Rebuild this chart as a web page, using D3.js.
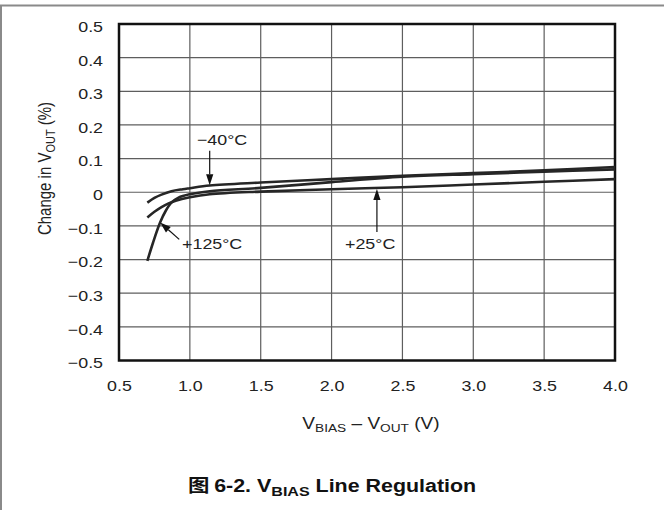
<!DOCTYPE html>
<html><head><meta charset="utf-8">
<script src="https://cdn.jsdelivr.net/npm/d3@7"></script>
<style>
html,body{margin:0;padding:0;background:#fff;}
svg{display:block;font-family:"Liberation Sans",Arial,sans-serif;}
</style></head>
<body><svg id="c" width="664" height="510"></svg>
<script>
const xTicks = [0.5,1.0,1.5,2.0,2.5,3.0,3.5,4.0];
const yTicks = [0.5,0.4,0.3,0.2,0.1,0,-0.1,-0.2,-0.3,-0.4,-0.5];
const yTickLabels = ["0.5","0.4","0.3","0.2","0.1","0","\u22120.1","\u22120.2","\u22120.3","\u22120.4","\u22120.5"];
const xTickLabels = ["0.5","1.0","1.5","2.0","2.5","3.0","3.5","4.0"];

const seriesM40 = [[0.70,-0.031],[0.75,-0.017],[0.80,-0.007],[0.87,0.003],[0.95,0.009],[1.0,0.012],[1.14,0.020],[1.5,0.029],[2.0,0.039],[2.5,0.049],[3.0,0.057],[3.5,0.065],[4.0,0.075]];
const seriesP125 = [[0.70,-0.204],[0.74,-0.150],[0.79,-0.090],[0.83,-0.055],[0.87,-0.031],[0.92,-0.016],[1.0,-0.006],[1.14,0.003],[1.5,0.013],[2.0,0.030],[2.5,0.046],[3.0,0.054],[3.5,0.061],[4.0,0.068]];
const seriesP25 = [[0.70,-0.075],[0.75,-0.058],[0.80,-0.044],[0.85,-0.033],[0.90,-0.025],[1.0,-0.015],[1.14,-0.006],[1.5,0.002],[2.0,0.009],[2.5,0.015],[3.0,0.023],[3.5,0.031],[4.0,0.039]];

const annLabels = ["\u221240\u00b0C","+125\u00b0C","+25\u00b0C"];
const annTextPos = [[1.05,0.139],[0.945,-0.168],[2.095,-0.170]];
const annTail = [[1.14,0.123],[0.925,-0.140],[2.32,-0.118]];
const annTip = [[1.14,0.021],[0.79,-0.090],[2.32,0.010]];

const SX = 1.19; // horizontal stretch of lettering in the reference
const svg = d3.select("#c");
const W = 664, H = 510;
const x = d3.scaleLinear().domain([0.5,4.0]).range([119,615]);
const y = d3.scaleLinear().domain([-0.5,0.5]).range([360.5,24]);

// outer frame (top and left)
svg.append("line").attr("x1",0).attr("x2",W).attr("y1",5.5).attr("y2",5.5).attr("stroke","#8a8a8a").attr("stroke-width",2);
svg.append("line").attr("x1",1).attr("x2",1).attr("y1",5).attr("y2",H).attr("stroke","#8a8a8a").attr("stroke-width",2);

// grid
const g = svg.append("g");
g.selectAll(".vg").data(xTicks.slice(1,-1)).enter().append("line")
 .attr("x1",d=>x(d)).attr("x2",d=>x(d)).attr("y1",y(0.5)).attr("y2",y(-0.5))
 .attr("stroke","#5e5e5e").attr("stroke-width",1.2);
g.selectAll(".hg").data(yTicks.slice(1,-1)).enter().append("line")
 .attr("x1",x(0.5)).attr("x2",x(4.0)).attr("y1",d=>y(d)).attr("y2",d=>y(d))
 .attr("stroke","#5e5e5e").attr("stroke-width",1.2);

// axes (labels only)
const yAxis = d3.axisLeft(y).tickValues(yTicks).tickSize(0).tickPadding(16)
  .tickFormat((d,i)=>yTickLabels[i]);
const ya = svg.append("g").attr("transform",`translate(${x(0.5)},0)`).call(yAxis);
ya.select(".domain").remove();
ya.selectAll("text").attr("font-size",15).attr("fill","#222").attr("font-family","Liberation Sans, Arial, sans-serif")
  .attr("dy","0.49em").attr("x",-16/SX).attr("transform",`scale(${SX},1)`);

const xAxis = d3.axisBottom(x).tickValues(xTicks).tickSize(0).tickPadding(20)
  .tickFormat((d,i)=>xTickLabels[i]);
const xa = svg.append("g").attr("transform",`translate(0,${y(-0.5)})`).call(xAxis);
xa.select(".domain").remove();
xa.selectAll("text").attr("font-size",15).attr("fill","#222").attr("font-family","Liberation Sans, Arial, sans-serif")
  .attr("transform",`scale(${SX},1)`);

// border
svg.append("rect").attr("x",x(0.5)).attr("y",y(0.5)).attr("width",x(4.0)-x(0.5)).attr("height",y(-0.5)-y(0.5))
 .attr("fill","none").attr("stroke","#111").attr("stroke-width",2.5);

// curves
const line = d3.line().x(d=>x(d[0])).y(d=>y(d[1])).curve(d3.curveCatmullRom.alpha(0.5));
svg.append("clipPath").attr("id","pc").append("rect")
  .attr("x",x(0.5)).attr("y",y(0.5)).attr("width",x(4.0)-x(0.5)).attr("height",y(-0.5)-y(0.5));
[seriesM40,seriesP125,seriesP25].forEach(s=>{
  svg.append("path").attr("d",line(s)).attr("fill","none").attr("stroke","#262626")
    .attr("stroke-width",2.6).attr("stroke-linecap","butt").attr("clip-path","url(#pc)");
});

// annotations
annLabels.forEach((t,i)=>{
  svg.append("text").attr("transform",`translate(${x(annTextPos[i][0])},${y(annTextPos[i][1])}) scale(${SX},1)`)
    .attr("font-size",15).attr("fill","#222").text(t);
  const x1=x(annTail[i][0]), y1=y(annTail[i][1]), x2=x(annTip[i][0]), y2=y(annTip[i][1]);
  const ang=Math.atan2(y2-y1,x2-x1), L=11, Wd=3.6;
  const bx=x2-L*Math.cos(ang), by=y2-L*Math.sin(ang);
  svg.append("line").attr("x1",x1).attr("y1",y1).attr("x2",bx).attr("y2",by).attr("stroke","#111").attr("stroke-width",1.2);
  const px=-Math.sin(ang), py=Math.cos(ang);
  svg.append("path").attr("d",`M${x2},${y2}L${bx+px*Wd},${by+py*Wd}L${bx-px*Wd},${by-py*Wd}Z`).attr("fill","#111");
});

// y title
const yt = svg.append("text").attr("transform",`translate(51,168.5) rotate(-90) scale(1,${SX})`).attr("text-anchor","middle")
  .attr("font-size",15).attr("fill","#222");
yt.append("tspan").text("Change in V");
yt.append("tspan").attr("font-size",11).attr("dy",3).text("OUT");
yt.append("tspan").attr("dy",-3).text(" (%)");

// x title
const xt = svg.append("text").attr("transform",`translate(${(x(0.5)+x(4.0))/2+4},429) scale(${SX},1)`).attr("text-anchor","middle")
  .attr("font-size",16).attr("fill","#222");
xt.append("tspan").text("V");
xt.append("tspan").attr("font-size",11.5).attr("dy",3).text("BIAS");
xt.append("tspan").attr("dy",-3).text(" \u2013 V");
xt.append("tspan").attr("font-size",11.5).attr("dy",3).text("OUT");
xt.append("tspan").attr("dy",-3).text(" (V)");

// caption
const ct = svg.append("text").attr("transform",`translate(332,492) scale(${SX},1)`).attr("text-anchor","middle")
  .attr("font-size",18).attr("font-weight","bold").attr("fill","#111");
ct.append("tspan").attr("font-family","Noto Sans CJK SC").text("\u56fe ");
ct.append("tspan").text("6-2. V");
ct.append("tspan").attr("font-size",13.5).attr("dy",3.5).text("BIAS");
ct.append("tspan").attr("dy",-3.5).text(" Line Regulation");
</script></body></html>
